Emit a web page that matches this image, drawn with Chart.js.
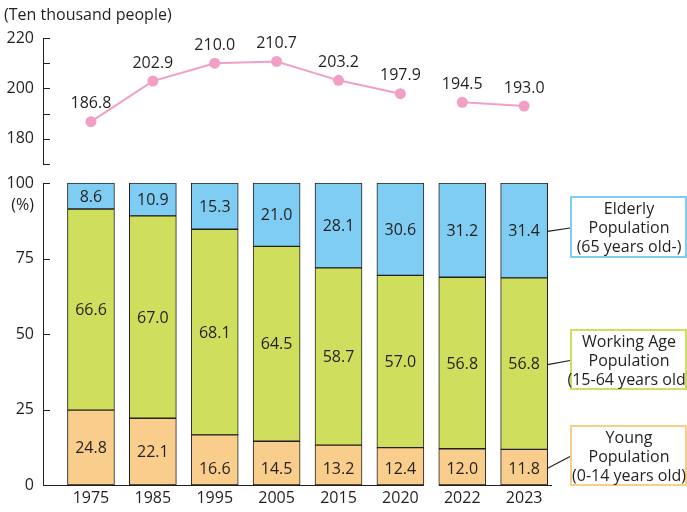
<!DOCTYPE html>
<html>
<head>
<meta charset="utf-8">
<script src="https://cdn.jsdelivr.net/npm/chart.js@4"></script>
<style>
  body { margin: 0; background: #fff; }
  #wrap { position: relative; width: 687px; height: 512px; }
  canvas { position: absolute; left: 0; top: 0; }
</style>
</head>
<body>
<div id="wrap">
  <canvas id="bars" width="687" height="512"></canvas>
  <canvas id="total" width="687" height="512"></canvas>
</div>
<script>
const years = ["1975", "1985", "1995", "2005", "2015", "2020", "2022", "2023"];
const totalPop = [186.8, 202.9, 210.0, 210.7, 203.2, 197.9, 194.5, 193.0];
const young = [24.8, 22.1, 16.6, 14.5, 13.2, 12.4, 12.0, 11.8];
const working = [66.6, 67.0, 68.1, 64.5, 58.7, 57.0, 56.8, 56.8];
const elderly = [8.6, 10.9, 15.3, 21.0, 28.1, 30.6, 31.2, 31.4];
const legendLines = [
  ["Young", "Population", "(0-14 years old)"],
  ["Working Age", "Population", "(15-64 years old)"],
  ["Elderly", "Population", "(65 years old-)"]
];

const FONT = "'Open Sans', 'Noto Sans', sans-serif";
const INK = "#231f20";
const PINK = "#f29fc5";
const colors = ["#f9cd8b", "#cfde5c", "#7fcdf2"];

Chart.defaults.font.family = FONT;
Chart.defaults.font.size = 16;
Chart.defaults.color = INK;

const xMin = -0.775, xMax = 7.45;

function xScale(showLabels) {
  return {
    type: "linear",
    min: xMin,
    max: xMax,
    offset: false,
    display: showLabels,
    grid: { display: false, drawTicks: false },
    border: { display: false },
    afterBuildTicks: (s) => {
      s.ticks = years.map((y, i) => ({ value: i }));
    },
    afterFit: (s) => { if (showLabels) s.height = 27; },
    ticks: {
      autoSkip: false,
      maxRotation: 0,
      padding: 4,
      callback: (v) => years[v]
    }
  };
}

// small tick marks pointing into the plot
const innerTicks = {
  id: "innerTicks",
  afterDraw(chart) {
    const { ctx } = chart;
    const y = chart.scales.y;
    ctx.save();
    ctx.strokeStyle = INK;
    ctx.lineWidth = 1;
    y.ticks.forEach((t) => {
      const py = Math.round(y.getPixelForValue(t.value)) + 0.5;
      ctx.beginPath();
      ctx.moveTo(y.right, py);
      ctx.lineTo(y.right + 7, py);
      ctx.stroke();
    });
    ctx.restore();
  }
};

// ---- top: total population line ----
const lineLabels = {
  id: "lineLabels",
  afterDatasetsDraw(chart) {
    const { ctx } = chart;
    const meta = chart.getDatasetMeta(0);
    ctx.save();
    ctx.font = "16px " + FONT;
    ctx.fillStyle = INK;
    ctx.textAlign = "center";
    ctx.textBaseline = "middle";
    meta.data.forEach((pt, i) => {
      ctx.fillText(totalPop[i].toFixed(1), pt.x, pt.y - 18);
    });
    ctx.textAlign = "left";
    ctx.fillText("(Ten thousand people)", 4, 15);
    ctx.restore();
  }
};

new Chart(document.getElementById("total"), {
  type: "line",
  data: {
    datasets: [{
      data: totalPop.map((v, i) => ({ x: i, y: v })),
      borderColor: PINK,
      backgroundColor: PINK,
      borderWidth: 2,
      pointRadius: 5.5,
      pointBackgroundColor: PINK,
      pointBorderWidth: 0,
      tension: 0,
      segment: {
        borderColor: (c) => (c.p0DataIndex === 5 ? "rgba(0,0,0,0)" : PINK)
      }
    }]
  },
  options: {
    responsive: false,
    animation: false,
    events: [],
    layout: { padding: { left: 0, right: 135, top: 38, bottom: 348 } },
    plugins: { legend: { display: false }, tooltip: { enabled: false } },
    scales: {
      x: xScale(false),
      y: {
        min: 170,
        max: 220,
        afterFit: (s) => { s.width = 43; },
        grid: { display: false, drawTicks: false },
        border: { display: true, color: INK, width: 1 },
        ticks: {
          stepSize: 10,
          autoSkip: false,
          padding: 9,
          callback: (v) => (v % 20 === 0 ? String(v) : "")
        }
      }
    }
  },
  plugins: [lineLabels, innerTicks]
});

// ---- bottom: age structure bars ----
const barExtras = {
  id: "barExtras",
  afterDatasetsDraw(chart) {
    const { ctx, chartArea } = chart;
    const x = chart.scales.x;
    const y = chart.scales.y;
    const half = 23.5;
    ctx.save();

    // x axis line, broken between 2020 and 2022
    ctx.strokeStyle = INK;
    ctx.lineWidth = 1;
    const by = Math.round(chartArea.bottom) + 0.5;
    ctx.beginPath();
    ctx.moveTo(chartArea.left, by);
    ctx.lineTo(x.getPixelForValue(5) + half, by);
    ctx.moveTo(x.getPixelForValue(6) - half, by);
    ctx.lineTo(chartArea.right, by);
    ctx.stroke();

    // values inside the bars
    ctx.font = "16px " + FONT;
    ctx.fillStyle = INK;
    ctx.textAlign = "center";
    ctx.textBaseline = "middle";
    const series = [young, working, elderly];
    chart.data.datasets.forEach((ds, d) => {
      chart.getDatasetMeta(d).data.forEach((bar, i) => {
        const top = Math.min(bar.y, bar.base);
        const bottom = Math.max(bar.y, bar.base);
        let cy = (top + bottom) / 2;
        if (d === 0 && bottom - top < 60) cy = bottom - 17;
        ctx.fillText(series[d][i].toFixed(1), bar.x, cy + 1);
      });
    });

    // "(%)" under 100
    ctx.textAlign = "right";
    ctx.fillText("(%)", 34, y.getPixelForValue(100) + 22);

    // legend boxes with connectors to the last bar
    const boxes = [
      { top: 425, h: 61 },
      { top: 329, h: 61 },
      { top: 196, h: 62 }
    ];
    const last = years.length - 1;
    boxes.forEach((b, d) => {
      const bar = chart.getDatasetMeta(d).data[last];
      const midY = (bar.y + bar.base) / 2;
      const left = 570;
      ctx.strokeStyle = colors[d];
      ctx.lineWidth = 2;
      ctx.strokeRect(left + 1, b.top + 1, 115, b.h - 2);
      ctx.strokeStyle = INK;
      ctx.lineWidth = 1.2;
      ctx.beginPath();
      ctx.moveTo(bar.x + half, midY + 1);
      ctx.lineTo(left, b.top + b.h / 2 + 1);
      ctx.stroke();
      ctx.fillStyle = INK;
      ctx.textAlign = "center";
      legendLines[d].forEach((t, k) => {
        ctx.fillText(t, 629, b.top + 13 + k * 19);
      });
    });
    ctx.restore();
  }
};

new Chart(document.getElementById("bars"), {
  type: "bar",
  data: {
    datasets: [young, working, elderly].map((vals, d) => ({
      data: vals.map((v, i) => ({ x: i, y: v })),
      backgroundColor: colors[d],
      borderColor: INK,
      borderWidth: 1,
      borderSkipped: false,
      barThickness: 47
    }))
  },
  options: {
    responsive: false,
    animation: false,
    events: [],
    layout: { padding: { left: 0, right: 135, top: 183, bottom: 0 } },
    plugins: { legend: { display: false }, tooltip: { enabled: false } },
    scales: {
      x: Object.assign(xScale(true), { stacked: true }),
      y: {
        stacked: true,
        min: 0,
        max: 100,
        afterFit: (s) => { s.width = 43; },
        grid: { display: false, drawTicks: false },
        border: { display: true, color: INK, width: 1 },
        ticks: { stepSize: 25, autoSkip: false, padding: 9 }
      }
    }
  },
  plugins: [barExtras, innerTicks]
});
</script>
</body>
</html>
